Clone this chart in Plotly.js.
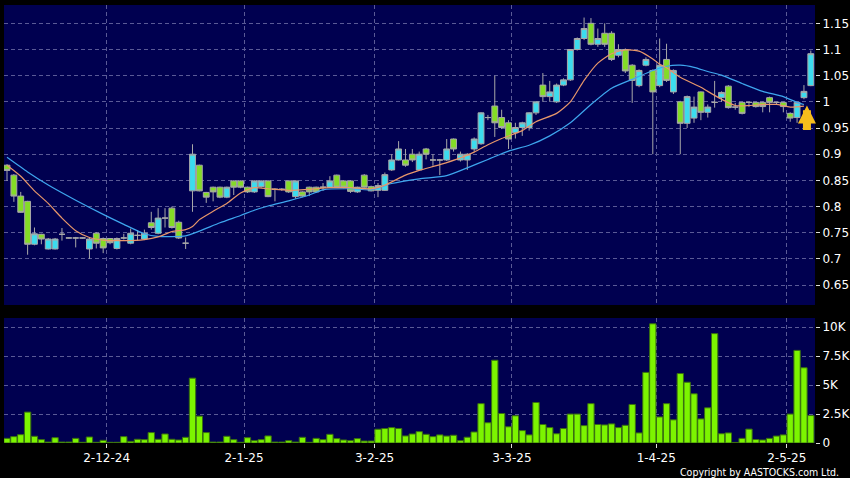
<!DOCTYPE html>
<html>
<head>
<meta charset="utf-8">
<script src="https://cdn.plot.ly/plotly-3.0.1.min.js"></script>
<style>
  html, body { margin: 0; padding: 0; background: #000000; }
  #chart { width: 850px; height: 478px; }
</style>
</head>
<body>
<div id="chart"></div>
<script>
// Trading days (HK), 11 Nov 2024 .. 8 May 2025
const dates = [
  '2024-11-11','2024-11-12','2024-11-13','2024-11-14','2024-11-15','2024-11-18','2024-11-19','2024-11-20','2024-11-21','2024-11-22',
  '2024-11-25','2024-11-26','2024-11-27','2024-11-28','2024-11-29',
  '2024-12-02','2024-12-03','2024-12-04','2024-12-05','2024-12-06','2024-12-09','2024-12-10','2024-12-11','2024-12-12','2024-12-13',
  '2024-12-16','2024-12-17','2024-12-18','2024-12-19','2024-12-20','2024-12-23','2024-12-24','2024-12-27','2024-12-30','2024-12-31',
  '2025-01-02','2025-01-03','2025-01-06','2025-01-07','2025-01-08','2025-01-09','2025-01-10','2025-01-13','2025-01-14','2025-01-15',
  '2025-01-16','2025-01-17','2025-01-20','2025-01-21','2025-01-22','2025-01-23','2025-01-24','2025-01-27','2025-01-28',
  '2025-02-03','2025-02-04','2025-02-05','2025-02-06','2025-02-07','2025-02-10','2025-02-11','2025-02-12','2025-02-13','2025-02-14',
  '2025-02-17','2025-02-18','2025-02-19','2025-02-20','2025-02-21','2025-02-24','2025-02-25','2025-02-26','2025-02-27','2025-02-28',
  '2025-03-03','2025-03-04','2025-03-05','2025-03-06','2025-03-07','2025-03-10','2025-03-11','2025-03-12','2025-03-13','2025-03-14',
  '2025-03-17','2025-03-18','2025-03-19','2025-03-20','2025-03-21','2025-03-24','2025-03-25','2025-03-26','2025-03-27','2025-03-28','2025-03-31',
  '2025-04-01','2025-04-02','2025-04-03','2025-04-07','2025-04-08','2025-04-09','2025-04-10','2025-04-11','2025-04-14','2025-04-15',
  '2025-04-16','2025-04-17','2025-04-22','2025-04-23','2025-04-24','2025-04-25','2025-04-28','2025-04-29','2025-04-30',
  '2025-05-02','2025-05-06','2025-05-07','2025-05-08'
];

const open = [
  0.879,0.860,0.820,0.810,0.728,0.747,0.719,0.719,0.747,0.740,
  0.740,0.740,0.719,0.749,0.739,0.739,0.720,0.740,0.730,0.745,
  0.738,0.769,0.749,0.778,0.797,0.770,0.730,0.830,0.879,0.827,
  0.837,0.837,0.818,0.849,0.849,0.837,0.828,0.838,0.849,0.833,
  0.833,0.849,0.819,0.828,0.837,0.837,0.837,0.837,0.860,0.849,
  0.849,0.828,0.860,0.838,0.831,0.831,0.870,0.889,0.889,0.900,
  0.870,0.910,0.889,0.889,0.889,0.929,0.889,0.889,0.910,0.920,
  0.970,0.992,0.970,0.960,0.941,0.951,0.951,0.979,1.032,1.010,
  1.000,1.032,1.042,1.100,1.121,1.150,1.110,1.131,1.131,1.089,
  1.100,1.070,1.031,1.070,1.060,1.031,1.081,1.019,1.000,0.959,
  0.969,1.019,0.980,0.999,1.008,1.030,0.990,0.999,0.999,0.999,
  0.999,1.008,0.999,0.999,0.978,0.970,1.008,1.031
];
const high = [
  0.881,0.862,0.828,0.811,0.760,0.748,0.740,0.740,0.759,0.741,
  0.742,0.741,0.740,0.751,0.741,0.740,0.741,0.748,0.758,0.755,
  0.756,0.790,0.797,0.797,0.800,0.773,0.741,0.919,0.880,0.828,
  0.838,0.838,0.838,0.850,0.850,0.838,0.850,0.850,0.850,0.835,
  0.835,0.850,0.850,0.829,0.838,0.838,0.845,0.858,0.861,0.850,
  0.850,0.838,0.862,0.840,0.845,0.865,0.900,0.925,0.910,0.910,
  0.905,0.912,0.900,0.891,0.929,0.930,0.905,0.902,0.932,0.980,
  0.975,1.050,0.985,0.965,0.960,0.962,0.980,1.000,1.055,1.040,
  1.035,1.045,1.100,1.123,1.161,1.160,1.140,1.150,1.135,1.110,
  1.102,1.072,1.062,1.085,1.062,1.121,1.111,1.062,1.002,1.012,
  1.010,1.020,0.995,1.040,1.020,1.032,0.998,1.000,1.000,1.000,
  1.000,1.010,1.000,1.000,0.980,1.000,1.032,1.098
];
const low = [
  0.849,0.809,0.788,0.708,0.726,0.728,0.718,0.718,0.735,0.739,
  0.722,0.739,0.700,0.720,0.711,0.728,0.718,0.737,0.728,0.735,
  0.736,0.756,0.747,0.760,0.758,0.738,0.719,0.790,0.829,0.807,
  0.810,0.816,0.816,0.822,0.835,0.826,0.826,0.836,0.818,0.810,
  0.830,0.826,0.815,0.818,0.820,0.826,0.830,0.836,0.836,0.835,
  0.826,0.826,0.836,0.829,0.818,0.830,0.868,0.888,0.876,0.885,
  0.868,0.890,0.878,0.860,0.887,0.905,0.886,0.870,0.905,0.918,
  0.965,0.933,0.948,0.910,0.930,0.935,0.945,0.975,1.000,1.000,
  0.998,1.030,1.040,1.098,1.118,1.108,1.105,1.105,1.078,1.085,
  1.055,0.998,1.028,1.068,0.900,1.028,1.038,1.015,0.900,0.950,
  0.960,0.965,0.970,0.989,1.000,0.987,0.985,0.976,0.990,0.989,
  0.980,0.980,0.995,0.980,0.962,0.960,1.005,1.030
];
const close = [
  0.869,0.820,0.789,0.728,0.748,0.738,0.738,0.738,0.747,0.740,
  0.740,0.740,0.738,0.730,0.721,0.731,0.739,0.740,0.749,0.745,
  0.749,0.760,0.778,0.778,0.760,0.740,0.730,0.900,0.830,0.818,
  0.828,0.818,0.837,0.837,0.837,0.828,0.849,0.849,0.819,0.833,
  0.833,0.828,0.849,0.820,0.828,0.828,0.837,0.849,0.837,0.837,
  0.829,0.837,0.837,0.830,0.840,0.861,0.889,0.910,0.879,0.889,
  0.900,0.900,0.889,0.889,0.910,0.910,0.900,0.900,0.929,0.979,
  0.970,0.960,0.951,0.929,0.951,0.960,0.979,1.000,1.010,1.019,
  1.032,1.042,1.100,1.121,1.140,1.110,1.121,1.110,1.081,1.100,
  1.059,1.041,1.060,1.081,1.019,1.070,1.041,1.060,0.959,1.010,
  0.990,0.980,0.990,0.999,1.018,0.989,0.990,0.978,0.999,0.991,
  0.991,0.999,0.999,0.991,0.969,0.999,1.020,1.092
];
const volume = [
  400,550,720,2670,580,290,80,460,80,80,
  400,60,520,60,230,60,60,550,140,320,
  290,900,320,780,320,260,490,5600,2320,900,
  80,80,580,290,60,460,200,290,610,80,
  80,200,80,490,60,400,290,750,380,260,
  200,380,170,170,1190,1250,1330,1250,610,780,
  980,750,550,700,600,670,200,500,950,3400,
  1750,7150,2550,1400,2350,1070,700,3500,1600,1330,
  800,1250,2500,2500,1500,3400,1600,1560,1650,1330,
  1530,3330,870,6100,10300,2250,3400,2000,6000,5250,
  4250,2080,3040,9450,800,870,50,400,1200,300,
  260,400,600,700,2500,8000,6500,2370
];

// Moving averages (trading-day index -> value)
const maShortDay = [0,2,4,6,8,10,12,14,17,20,22,24,26,27,28,30,32,34,36,38,41,44,47,50,53,55,58,60,63,66,68,70,72,75,77,80,82,84,86,88,90,92,94,95,96,98,100,101,102,104,106,108,110,112,114,116];
const maShort = [0.879,0.858,0.830,0.806,0.778,0.754,0.741,0.736,0.735,0.737,0.742,0.752,0.756,0.762,0.775,0.791,0.806,0.826,0.836,0.834,0.831,0.833,0.836,0.836,0.834,0.841,0.860,0.869,0.880,0.893,0.904,0.918,0.930,0.945,0.962,0.978,1.000,1.041,1.074,1.092,1.099,1.097,1.082,1.072,1.065,1.047,1.034,1.028,1.020,1.005,0.993,0.993,0.995,0.995,0.990,0.992];
const maLongDay = [0,3,6,10,14,17,20,22,26,28,31,34,36,38,41,44,46,50,53,56,60,64,67,70,73,76,79,82,85,88,91,94,96,98,100,102,104,107,110,113,115,116];
const maLong = [0.894,0.866,0.841,0.812,0.785,0.766,0.748,0.743,0.744,0.753,0.769,0.783,0.793,0.801,0.811,0.822,0.832,0.834,0.832,0.844,0.853,0.859,0.874,0.890,0.906,0.917,0.935,0.960,0.995,1.026,1.043,1.060,1.068,1.070,1.066,1.058,1.051,1.035,1.020,1.010,0.999,0.995];

const tickDates = ['2024-12-02','2025-01-02','2025-02-03','2025-03-03','2025-04-01','2025-05-02'];
const tickLabels = ['2-12-24','2-1-25','3-2-25','3-3-25','1-4-25','2-5-25'];
const priceTicks = [0.65,0.7,0.75,0.8,0.85,0.9,0.95,1.0,1.05,1.1,1.15];
const priceTickLabels = ['0.65','0.7','0.75','0.8','0.85','0.9','0.95','1','1.05','1.1','1.15'];
const volTicks = [0,2500,5000,7500,10000];
const volTickLabels = ['0','2.5K','5K','7.5K','10K'];
const signalDate = '2025-05-07';
const signalPrice = 0.993;

const xIdx = dates.map((d, i) => i);
const tickPos = tickDates.map(d => dates.indexOf(d) - 0.5);

const GRID = '#5a5a96';
const DASH = '4px,3px';

const traces = [
  {
    type: 'candlestick', x: xIdx, open: open, high: high, low: low, close: close,
    xaxis: 'x', yaxis: 'y', whiskerwidth: 0,
    increasing: { line: { color: '#a8a8a8', width: 1 }, fillcolor: '#3cdcee' },
    decreasing: { line: { color: '#a8a8a8', width: 1 }, fillcolor: '#84dc26' },
    hoverinfo: 'skip'
  },
  {
    type: 'scatter', mode: 'lines', x: maLongDay, y: maLong, xaxis: 'x', yaxis: 'y',
    line: { color: '#3ea6ee', width: 1.2, shape: 'spline', smoothing: 0.6 }, hoverinfo: 'skip'
  },
  {
    type: 'scatter', mode: 'lines', x: maShortDay, y: maShort, xaxis: 'x', yaxis: 'y',
    line: { color: '#e8976a', width: 1.2, shape: 'spline', smoothing: 0.6 }, hoverinfo: 'skip'
  },
  {
    type: 'bar', x: xIdx, y: volume, xaxis: 'x2', yaxis: 'y2',
    marker: { color: '#7cf400', line: { color: '#3a7010', width: 1 } }, hoverinfo: 'skip'
  }
];

const layout = {
  width: 850, height: 478,
  paper_bgcolor: '#000000', plot_bgcolor: '#000050',
  margin: { l: 4, r: 35, t: 5, b: 35 },
  showlegend: false,
  bargap: 0.08,
  boxgap: 0.15, boxgroupgap: 0,
  font: { family: 'DejaVu Sans', size: 12, color: '#ffffff' },
  xaxis: {
    domain: [0, 1], anchor: 'y', range: [-0.437, 117.61],
    tickmode: 'array', tickvals: tickPos, showticklabels: false, ticks: '',
    showgrid: true, gridcolor: GRID, griddash: DASH, gridwidth: 1,
    zeroline: false, showline: false, rangeslider: { visible: false }, fixedrange: true
  },
  yaxis: {
    domain: [0.3151, 1], anchor: 'x', range: [0.612, 1.185], side: 'right',
    tickmode: 'array', tickvals: priceTicks, ticktext: priceTickLabels,
    ticks: 'outside', ticklen: 4, tickcolor: '#dddddd',
    showgrid: true, gridcolor: GRID, griddash: DASH, gridwidth: 1,
    zeroline: false, showline: false, tickfont: { size: 12, color: '#ffffff' }
  },
  xaxis2: {
    domain: [0, 1], anchor: 'y2', matches: 'x', range: [-0.437, 117.61],
    tickmode: 'array', tickvals: tickPos, ticktext: tickLabels,
    ticks: 'outside', ticklen: 4, tickcolor: '#dddddd',
    showgrid: true, gridcolor: GRID, griddash: DASH, gridwidth: 1,
    zeroline: false, showline: false, tickfont: { size: 12, color: '#ffffff' }
  },
  yaxis2: {
    domain: [0, 0.2854], anchor: 'x2', range: [0, 10800], side: 'right',
    tickmode: 'array', tickvals: volTicks, ticktext: volTickLabels,
    ticks: 'outside', ticklen: 4, tickcolor: '#dddddd',
    showgrid: true, gridcolor: GRID, griddash: DASH, gridwidth: 1,
    zeroline: false, showline: false, tickfont: { size: 12, color: '#ffffff' }
  },
  annotations: [
    {
      xref: 'x', yref: 'y', x: dates.indexOf(signalDate), y: signalPrice, xshift: 3,
      text: '', showarrow: true, ax: 0, ay: 26, axref: 'pixel', ayref: 'pixel',
      arrowhead: 2, arrowsize: 0.45, arrowwidth: 8, arrowcolor: '#f6bd1c', standoff: 0
    },
    {
      xref: 'paper', yref: 'paper', x: 1, y: 0, xanchor: 'right', yanchor: 'top',
      xshift: 26, yshift: -21, showarrow: false,
      text: 'Copyright by AASTOCKS.com Ltd.',
      font: { family: 'DejaVu Sans Condensed, Liberation Sans Narrow, Liberation Sans', size: 10.5, color: '#ffffff' }
    }
  ]
};

Plotly.newPlot('chart', traces, layout, { displayModeBar: false, staticPlot: true });
</script>
</body>
</html>
